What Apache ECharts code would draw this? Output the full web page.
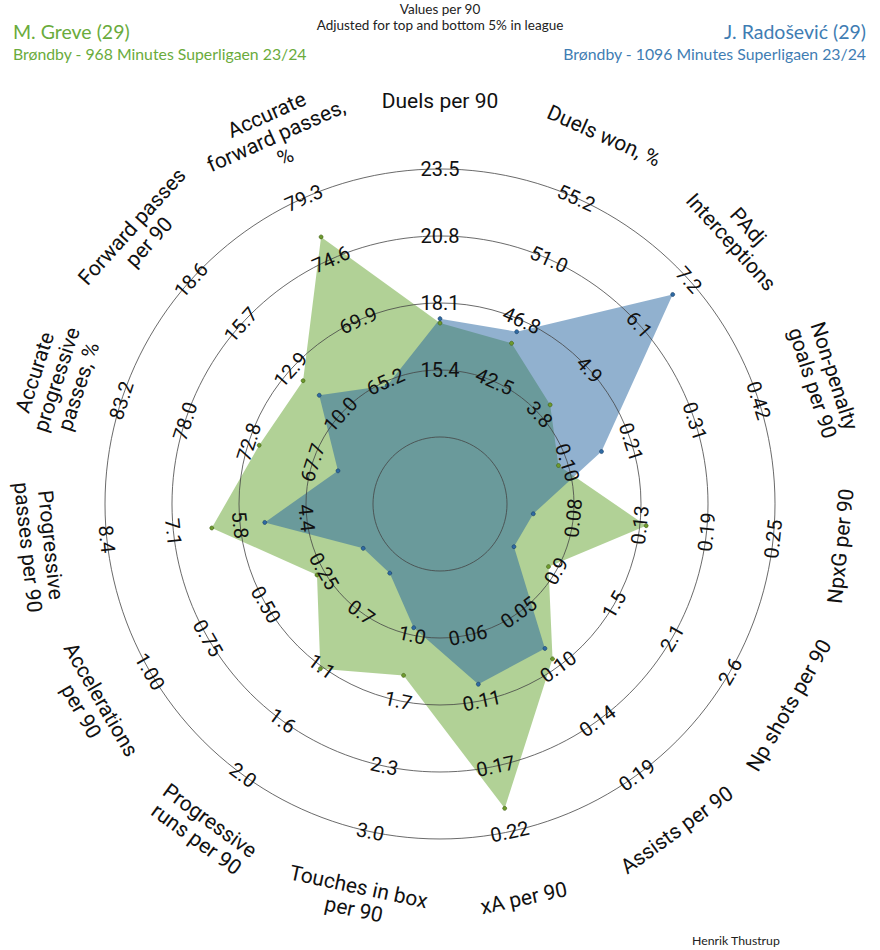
<!DOCTYPE html>
<html><head><meta charset="utf-8">
<script src="https://cdn.jsdelivr.net/npm/echarts@6/dist/echarts.min.js"></script>
<style>html,body{margin:0;padding:0;background:#fff}#c{width:880px;height:950px}</style>
</head><body><div id="c"></div>
<script>
// Axes, clockwise from the top
const categories = ['Duels per 90','Duels won, %','PAdj\nInterceptions','Non-penalty\ngoals per 90','NpxG per 90','Np shots per 90','Assists per 90','xA per 90','Touches in box\nper 90','Progressive\nruns per 90','Accelerations\nper 90','Progressive\npasses per 90','Accurate\nprogressive\npasses, %','Forward passes\nper 90','Accurate\nforward passes,\n%'];
// M. Greve values
const greve = [17.29,45.15,4.04,0.085,0.142,0.826,0.090,0.201,1.41,1.15,0.28,6.30,72.03,12.15,76.31];
// J. Radošević values
const radosevic = [17.47,45.95,6.83,0.157,0.046,0.489,0.081,0.100,0.925,0.386,0.081,5.24,65.64,11.22,64.9];
// Ring tick labels (rings 2..5) for each axis
const tickLabels = [
  ['15.4','18.1','20.8','23.5'],
  ['42.5','46.8','51.0','55.2'],
  ['3.8','4.9','6.1','7.2'],
  ['0.10','0.21','0.31','0.42'],
  ['0.08','0.13','0.19','0.25'],
  ['0.9','1.5','2.1','2.6'],
  ['0.05','0.10','0.14','0.19'],
  ['0.06','0.11','0.17','0.22'],
  ['1.0','1.7','2.3','3.0'],
  ['0.7','1.1','1.6','2.0'],
  ['0.25','0.50','0.75','1.00'],
  ['4.4','5.8','7.1','8.4'],
  ['67.7','72.8','78.0','83.2'],
  ['10.0','12.9','15.7','18.6'],
  ['65.2','69.9','74.6','79.3']
];

const N = categories.length;
// ECharts lays radar indicators counter-clockwise; reverse to get clockwise
const order = [0];
for (let i = N - 1; i >= 1; i--) order.push(i);

function textRot(i) {
  const theta = i * 360 / N;
  const cw = (theta <= 90 || theta >= 270) ? theta : theta - 180;
  let r = -cw;
  r = ((r % 360) + 540) % 360 - 180;
  return r;
}

const indicator = order.map(function (i) {
  const t = tickLabels[i].map(Number);
  const s = (t[3] - t[0]) / 3;
  const min = t[0] - 2 * s, max = t[3];
  const rot = textRot(i);
  return {
    name: categories[i], min: min, max: max,
    nameRotate: rot,
    axisLabel: {
      rotate: rot,
      formatter: function (v) {
        const k = Math.round((v - min) / s);
        return (k >= 2 && k <= 5) ? tickLabels[i][k - 2] : '';
      }
    }
  };
});

const chart = echarts.init(document.getElementById('c'), null, {renderer: 'svg'});
chart.setOption({
  backgroundColor: '#fff',
  animation: false,
  graphic: [
    {type: 'text', x: 440, y: 9, style: {text: 'Values per 90', font: '13.5px Lato', fill: '#222', align: 'center', verticalAlign: 'middle'}},
    {type: 'text', x: 440, y: 24.5, style: {text: 'Adjusted for top and bottom 5% in league', font: '13.5px Lato', fill: '#222', align: 'center', verticalAlign: 'middle'}},
    {type: 'text', x: 13, y: 31, style: {text: 'M. Greve (29)', font: '19.5px Lato', fill: '#6aab3c', align: 'left', verticalAlign: 'middle'}},
    {type: 'text', x: 13, y: 53, style: {text: 'Brøndby - 968 Minutes Superligaen 23/24', font: '15.8px Lato', fill: '#6aab3c', align: 'left', verticalAlign: 'middle'}},
    {type: 'text', x: 866, y: 31, style: {text: 'J. Radošević (29)', font: '19.5px Lato', fill: '#3f7db3', align: 'right', verticalAlign: 'middle'}},
    {type: 'text', x: 866, y: 53, style: {text: 'Brøndby - 1096 Minutes Superligaen 23/24', font: '15.8px Lato', fill: '#3f7db3', align: 'right', verticalAlign: 'middle'}},
    {type: 'text', x: 692, y: 940, style: {text: 'Henrik Thustrup', font: '12.3px Lato', fill: '#222', align: 'left', verticalAlign: 'middle'}}
  ],
  radar: {
    z: 3,
    center: [440, 504],
    radius: 335,
    splitNumber: 5,
    shape: 'circle',
    startAngle: 90,
    nameGap: 68,
    axisLine: {show: false},
    axisTick: {show: false},
    splitArea: {show: false},
    splitLine: {lineStyle: {color: '#444', width: 0.8}},
    axisName: {color: '#111', fontSize: 21, fontFamily: 'Roboto', lineHeight: 23, align: 'center', verticalAlign: 'middle'},
    axisLabel: {show: true, margin: 0, align: 'center', verticalAlign: 'middle', fontSize: 20, color: '#111', fontFamily: 'Roboto'},
    indicator: indicator
  },
  series: [{
    type: 'radar',
    z: 2,
    symbol: 'circle',
    symbolSize: 4,
    data: [
      {
        name: 'M. Greve', value: order.map(function (i) { return greve[i]; }),
        itemStyle: {color: '#6e9a2e', borderColor: '#3f5e14', borderWidth: 0.6},
        lineStyle: {width: 0, opacity: 0},
        areaStyle: {color: 'rgba(100,163,45,0.5)', opacity: 1}
      },
      {
        name: 'J. Radošević', value: order.map(function (i) { return radosevic[i]; }),
        itemStyle: {color: '#2f6aa3', borderColor: '#173d63', borderWidth: 0.6},
        lineStyle: {width: 0, opacity: 0},
        areaStyle: {color: 'rgba(35,100,160,0.5)', opacity: 1}
      }
    ]
  }]
});
</script></body></html>
